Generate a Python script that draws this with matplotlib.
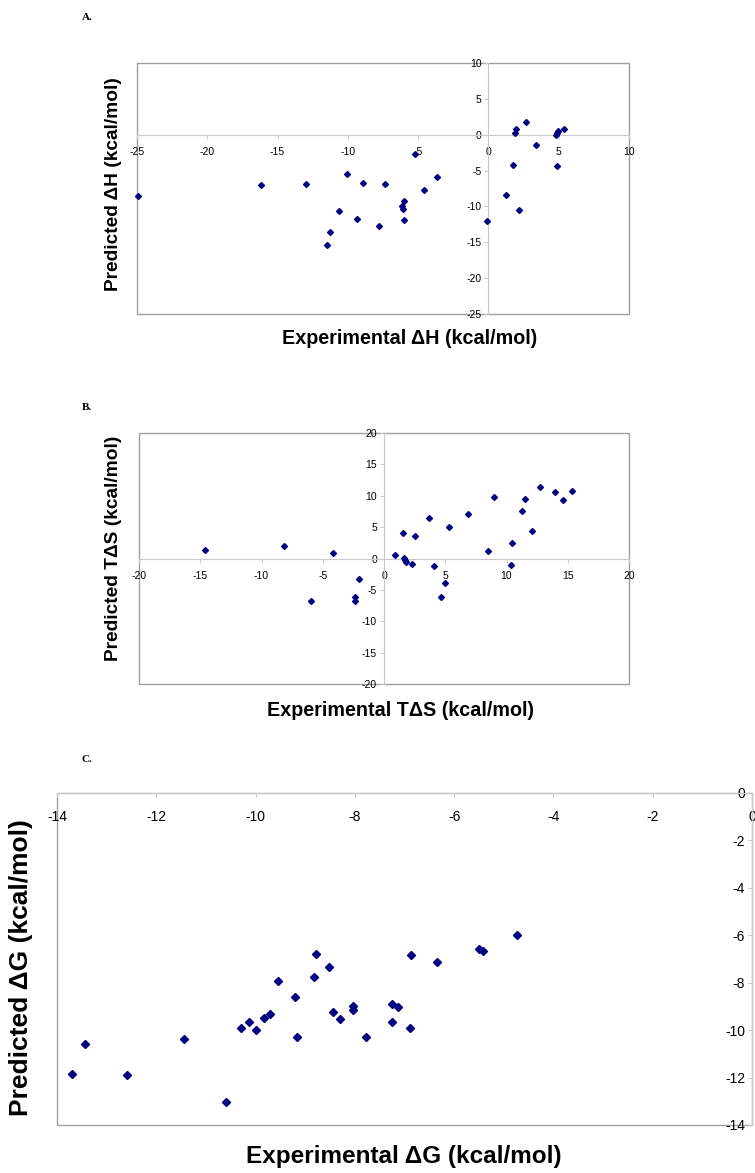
import matplotlib
matplotlib.use("Agg")
import matplotlib.pyplot as plt
from matplotlib.patches import Rectangle

plt.rcParams["axes.unicode_minus"] = False

# Panel A: enthalpy
dh_exp = [-24.9, -16.2, -13.0, -11.5, -11.3, -10.6, -10.05, -9.36, -8.9, -7.8,
          -7.36, -6.17, -6.1, -5.98, -5.98, -5.24, -4.55, -3.64, -0.07, 1.26,
          1.74, 1.88, 1.95, 2.17, 2.69, 3.38, 4.79, 4.86, 4.93, 4.86, 5.36]
dh_pred = [-8.6, -7.06, -6.9, -15.4, -13.55, -10.65, -5.47, -11.7, -6.78, -12.7,
           -6.9, -9.9, -10.3, -9.3, -11.87, -2.66, -7.66, -5.84, -12.1, -8.36,
           -4.25, 0.19, 0.75, -10.56, 1.82, -1.5, -0.05, 0.28, 0.47, -4.39, 0.84]

# Panel B: entropy term
tds_exp = [-14.6, -8.16, -4.16, -5.99, -2.39, -2.34, -2.07, 0.9, 1.52, 1.66,
           1.74, 1.8, 2.26, 2.5, 3.65, 4.08, 4.63, 5.0, 5.28, 6.86,
           8.49, 8.95, 10.4, 10.45, 11.3, 11.5, 12.08, 12.76, 13.99, 14.58, 15.37]
tds_pred = [1.38, 2.07, 0.85, -6.84, -6.1, -6.74, -3.29, 0.58, 4.14, 0.05,
            -0.27, -0.58, -0.8, 3.6, 6.47, -1.22, -6.15, -3.98, 5.09, 7.16,
            1.27, 9.76, -1.06, 2.49, 7.59, 9.5, 4.4, 11.4, 10.6, 9.34, 10.7]

# Panel C: free energy
dg_exp = [-13.70, -13.44, -12.60, -11.44, -10.59, -10.30, -10.13, -9.99, -9.83, -9.70,
          -9.54, -9.20, -9.16, -8.82, -8.79, -8.52, -8.45, -8.29, -8.04, -8.04,
          -7.77, -7.25, -7.25, -7.13, -6.88, -6.86, -6.35, -5.49, -5.41, -4.73]
dg_pred = [-11.85, -10.57, -11.9, -10.37, -13.04, -9.89, -9.65, -9.99, -9.47, -9.33,
           -7.92, -8.6, -10.27, -7.78, -6.77, -7.34, -9.22, -9.51, -8.98, -9.15,
           -10.31, -8.88, -9.65, -9.03, -9.89, -6.82, -7.12, -6.57, -6.68, -5.97]

NAVY = "#000080"
AXIS_GRAY = "#c8c8c8"
BORDER_GRAY = "#a0a0a0"


def excel_scatter(ax, x, y, xlim, ylim, step_x, step_y, tick_size, ms, xpad):
    ax.plot(x, y, linestyle="none", marker="D", markersize=ms,
            color=NAVY, markeredgecolor=NAVY, clip_on=False, zorder=5)
    ax.set_xlim(*xlim)
    ax.set_ylim(*ylim)
    ax.set_xticks(range(xlim[0], xlim[1] + 1, step_x))
    ax.set_yticks(range(ylim[0], ylim[1] + 1, step_y))
    # axes cross at zero, like an Excel XY chart
    ax.spines["left"].set_position("zero")
    ax.spines["bottom"].set_position("zero")
    for s in ("left", "bottom"):
        ax.spines[s].set_color(AXIS_GRAY)
        ax.spines[s].set_linewidth(0.8)
    ax.spines["top"].set_visible(False)
    ax.spines["right"].set_visible(False)
    ax.tick_params(direction="out", length=3, width=0.7, color=AXIS_GRAY,
                   labelsize=tick_size, pad=2)
    ax.tick_params(axis="x", pad=xpad)
    for lab in ax.get_xticklabels() + ax.get_yticklabels():
        lab.set_fontfamily("Liberation Sans")
    ax.add_patch(Rectangle((0, 0), 1, 1, transform=ax.transAxes, fill=False,
                           edgecolor=BORDER_GRAY, linewidth=1.0, clip_on=False, zorder=1))


fig = plt.figure(figsize=(7.55, 11.73), dpi=100)

ax_a = fig.add_axes([137 / 755, 1 - 314 / 1173, 492 / 755, 251 / 1173])
excel_scatter(ax_a, dh_exp, dh_pred, (-25, 10), (-25, 10), 5, 5, 7.5, 3.0, 6)

ax_b = fig.add_axes([139 / 755, 1 - 684 / 1173, 490 / 755, 251 / 1173])
excel_scatter(ax_b, tds_exp, tds_pred, (-20, 20), (-20, 20), 5, 5, 7.5, 3.0, 6)

ax_c = fig.add_axes([57 / 755, 1 - 1125 / 1173, 695 / 755, 332 / 1173])
excel_scatter(ax_c, dg_exp, dg_pred, (-14, 0), (-14, 0), 2, 2, 10, 3.8, 9)

lab_font = dict(family="Liberation Sans", fontweight="bold")
fig.text(410 / 755, 1 - 339 / 1173, "Experimental \u0394H (kcal/mol)", ha="center", va="center", fontsize=14.2, **lab_font)
fig.text(113 / 755, 1 - 184 / 1173, "Predicted \u0394H (kcal/mol)", ha="center", va="center", rotation=90, fontsize=13.8, **lab_font)
fig.text(400 / 755, 1 - 711 / 1173, "Experimental T\u0394S (kcal/mol)", ha="center", va="center", fontsize=14.2, **lab_font)
fig.text(113 / 755, 1 - 548 / 1173, "Predicted T\u0394S (kcal/mol)", ha="center", va="center", rotation=90, fontsize=13.8, **lab_font)
fig.text(404 / 755, 1 - 1157 / 1173, "Experimental \u0394G (kcal/mol)", ha="center", va="center", fontsize=17.5, **lab_font)
fig.text(21 / 755, 1 - 968 / 1173, "Predicted \u0394G (kcal/mol)", ha="center", va="center", rotation=90, fontsize=19, **lab_font)

letter_font = dict(family="Liberation Serif", fontweight="bold", fontsize=8)
fig.text(82 / 755, 1 - 17 / 1173, "A.", ha="left", va="center", **letter_font)
fig.text(82 / 755, 1 - 408 / 1173, "B.", ha="left", va="center", **letter_font)
fig.text(82 / 755, 1 - 760 / 1173, "C.", ha="left", va="center", **letter_font)

fig.savefig("out.png", dpi=100, facecolor="white")
